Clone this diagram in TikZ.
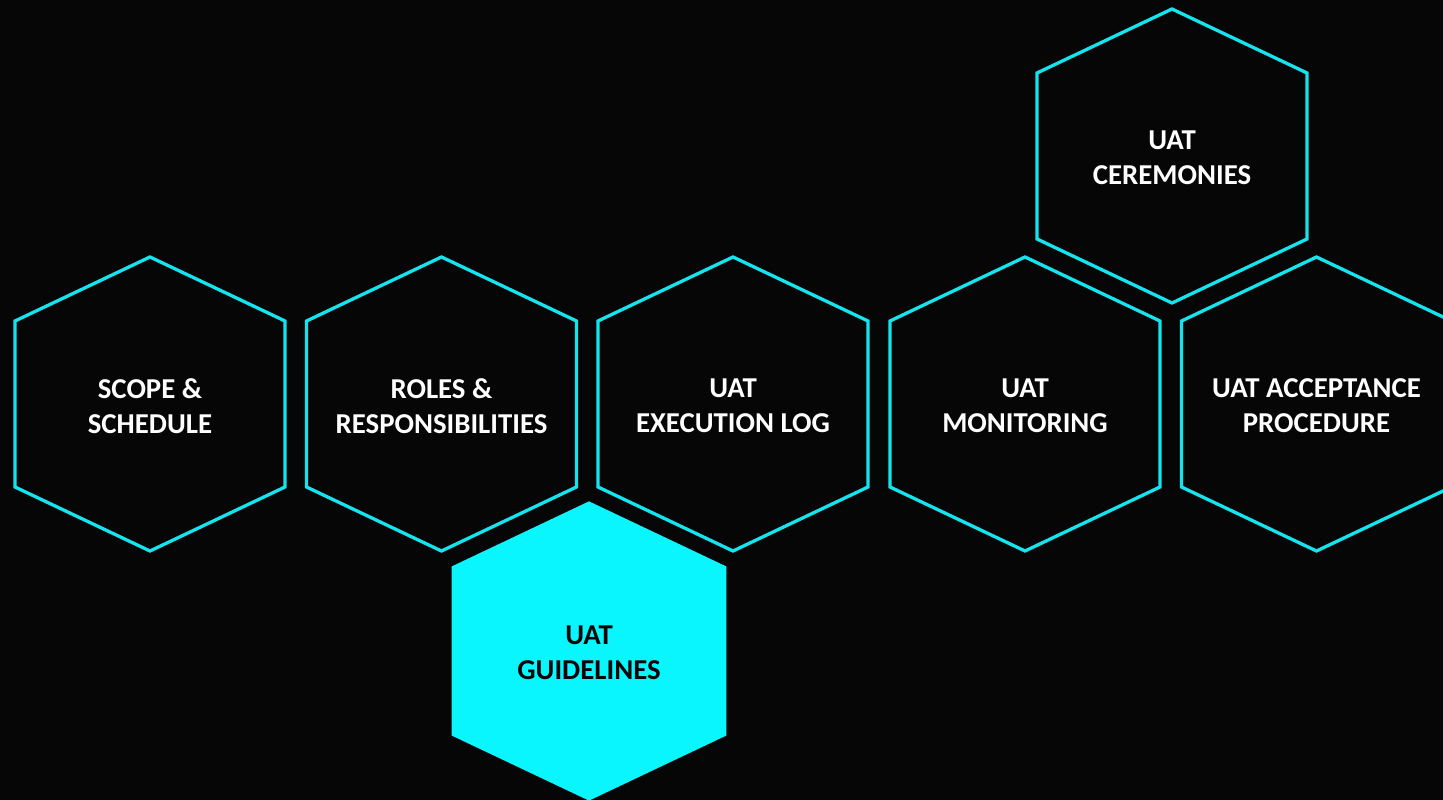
\documentclass[tikz,border=0pt]{standalone}
\definecolor{HexCyan}{RGB}{20, 228, 238}
\definecolor{HexFill}{RGB}{10, 246, 255}
\definecolor{PageBlack}{RGB}{6, 6, 6}
\usepackage{fontspec}
\setmainfont{Carlito}
\usepackage{tikz}
\usetikzlibrary{positioning, calc}

\begin{document}
\begin{tikzpicture}[x=1pt, y=1pt,
		hexline/.style={draw=HexCyan, line width=3.3pt, line join=miter},
		hexsolid/.style={fill=HexFill},
		hexlabel/.style={align=center, text=white, inner sep=0pt,
			font=\bfseries\fontsize{28.8}{35}\selectfont},
		pics/hexcell/.style={code={
				\path[#1] (0,-147) -- (135,-83) -- (135,83) -- (0,147)
					-- (-135,83) -- (-135,-83) -- cycle;
		}}]
			% page
			\fill[PageBlack] (0,0) rectangle (1443,800);
			\useasboundingbox (0,0) rectangle (1443,800);

			% hexagons
			\pic at (150,396) {hexcell=hexline};
			\pic at (441.5,396) {hexcell=hexline};
			\pic at (733,396) {hexcell=hexline};
			\pic at (1025,396) {hexcell=hexline};
			\pic at (1316.5,396) {hexcell=hexline};
			\pic at (1172,644) {hexcell=hexline};
			\pic[scale=1.018] at (589,149) {hexcell=hexsolid};

			% labels
			\node[hexlabel] (scope) at (150,394) {SCOPE \&\\SCHEDULE};
			\node[hexlabel] (roles) at (441.5,394) {ROLES \&\\RESPONSIBILITIES};
			\node[hexlabel] (execlog) at (733,394) {UAT\\EXECUTION LOG};
			\node[hexlabel] (monitor) at (1025,394) {UAT\\MONITORING};
			\node[hexlabel] (accept) at (1316.5,394) {UAT ACCEPTANCE\\PROCEDURE};
			\node[hexlabel] (ceremony) at (1172,642) {UAT\\CEREMONIES};
			\node[hexlabel, text=PageBlack] (guide) at (589,147) {UAT\\GUIDELINES};
		\end{tikzpicture}
\end{document}
